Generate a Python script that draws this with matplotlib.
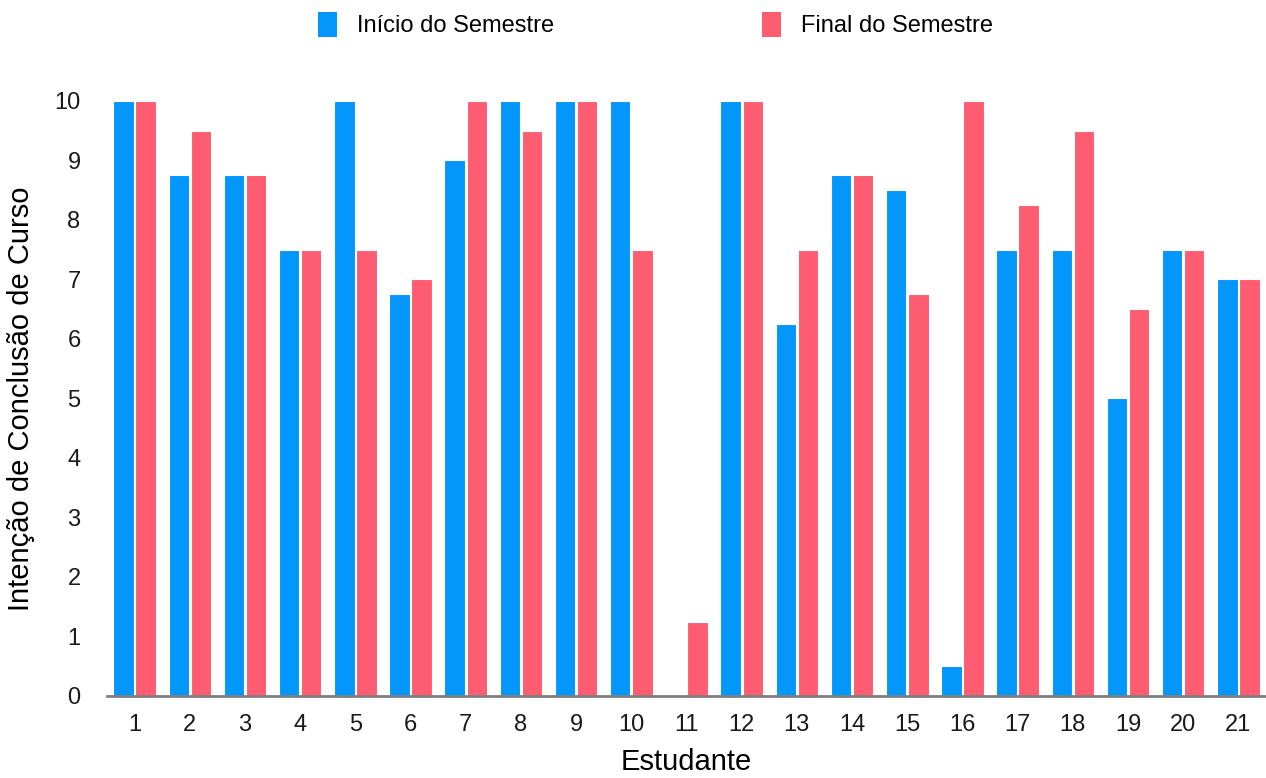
import numpy as np
import matplotlib.pyplot as plt
from matplotlib.patches import Patch

plt.rcParams['font.family'] = ['Liberation Sans', 'DejaVu Sans']

# Intenção de conclusão por estudante (escala 0-10)
estudantes = [str(i) for i in range(1, 22)]
inicio = [10, 8.75, 8.75, 7.5, 10, 6.75, 9, 10, 10, 10, 0,
          10, 6.25, 8.75, 8.5, 0.5, 7.5, 7.5, 5, 7.5, 7]
final = [10, 9.5, 8.75, 7.5, 7.5, 7, 10, 9.5, 10, 7.5, 1.25,
         10, 7.5, 8.75, 6.75, 10, 8.25, 9.5, 6.5, 7.5, 7]

cor_inicio = '#0396FB'
cor_final = '#FD5C71'

fig = plt.figure(figsize=(12.66, 7.78), dpi=100)
ax = fig.add_axes([0.0845, 0.1055, 0.9155, 0.7647])

x = np.arange(1, len(estudantes) + 1)
w = 0.37
ax.bar(x - 0.2, inicio, w, color=cor_inicio, edgecolor='white', linewidth=0.8)
ax.bar(x + 0.2, final, w, color=cor_final, edgecolor='white', linewidth=0.8)

ax.set_xlim(0.5, 21.5)
ax.set_ylim(0, 10)
ax.set_xticks(x)
ax.set_xticklabels(estudantes)
ax.set_yticks(range(0, 11))

for s in ['top', 'right', 'left']:
    ax.spines[s].set_visible(False)
ax.spines['bottom'].set_color('#7f7f7f')
ax.spines['bottom'].set_linewidth(2)
ax.tick_params(axis='both', length=0, labelsize=17, colors='#1a1a1a')
ax.tick_params(axis='x', pad=13)
ax.tick_params(axis='y', pad=19)

ax.set_xlabel('Estudante', fontsize=21, labelpad=9)
ax.set_ylabel('Intenção de Conclusão de Curso', fontsize=21, labelpad=14)

handles = [Patch(facecolor=cor_inicio, label='Início do Semestre'),
           Patch(facecolor=cor_final, label='Final do Semestre')]
fig.legend(handles=handles, loc='upper center', bbox_to_anchor=(0.518, 1.012),
           ncol=2, frameon=False, fontsize=17, handlelength=0.8,
           handleheight=1.27, handletextpad=0.85, columnspacing=8.8)

fig.savefig('out.png', dpi=100)
